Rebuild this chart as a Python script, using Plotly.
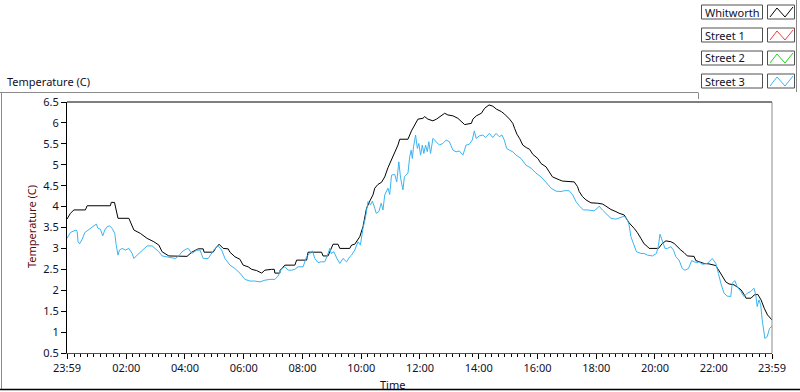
import plotly.graph_objects as go

# ---- data (hours after midnight; first point is 23:59 of previous day) ----
whitworth_hours = [-0.017, 0.10, 0.22, 0.61, 0.67, 1.46, 1.49, 1.60, 1.72, 2.09,
    2.26, 2.48, 2.71, 2.94, 3.11, 3.22, 3.45, 4.07, 4.23, 4.45,
    4.62, 4.65, 4.96, 5.04, 5.16, 5.30, 5.47, 5.53, 5.70, 5.87,
    5.98, 6.15, 6.27, 6.44, 6.61, 6.72, 6.95, 7.04, 7.06, 7.23,
    7.24, 7.40, 7.74, 7.80, 8.14, 8.19, 8.65, 8.70, 8.87, 8.93,
    9.04, 9.21, 9.27, 9.61, 9.67, 9.78, 9.84, 9.95, 10.06, 10.18,
    10.29, 10.40, 10.46, 10.57, 10.69, 10.80, 10.91, 11.03, 11.14, 11.25,
    11.31, 11.59, 11.71, 11.82, 11.93, 12.10, 12.16, 12.27, 12.44, 12.56,
    12.67, 12.84, 12.95, 13.12, 13.29, 13.41, 13.52, 13.75, 13.80, 13.92,
    14.09, 14.20, 14.35, 14.48, 14.60, 14.77, 14.88, 15.05, 15.16, 15.22,
    15.30, 15.39, 15.50, 15.62, 15.73, 15.84, 16.01, 16.12, 16.29, 16.40,
    16.51, 16.74, 16.85, 17.25, 17.36, 17.42, 17.53, 17.65, 17.82, 18.05,
    18.22, 18.33, 18.50, 18.67, 18.78, 18.95, 19.12, 19.29, 19.40, 19.52,
    19.63, 19.75, 19.80, 20.12, 20.25, 20.37, 20.54, 20.65, 20.76, 20.88,
    20.99, 21.10, 21.33, 21.39, 21.67, 21.84, 22.07, 22.18, 22.29, 22.41,
    22.52, 22.69, 22.81, 22.93, 23.04, 23.10, 23.27, 23.38, 23.50, 23.61,
    23.72, 23.83, 23.983]
whitworth_temp = [3.70, 3.84, 3.92, 3.92, 4.02, 4.02, 4.10, 4.10, 3.72, 3.72,
    3.44, 3.36, 3.24, 3.16, 3.08, 2.92, 2.82, 2.81, 2.91, 2.99,
    2.99, 2.91, 2.91, 3.00, 3.10, 3.00, 2.99, 2.91, 2.80, 2.74,
    2.60, 2.56, 2.50, 2.47, 2.41, 2.48, 2.50, 2.50, 2.41, 2.41,
    2.48, 2.60, 2.60, 2.72, 2.72, 2.91, 2.91, 2.82, 2.82, 2.92,
    3.10, 3.10, 3.00, 3.00, 3.08, 3.10, 3.16, 3.28, 3.52, 3.96,
    4.13, 4.28, 4.44, 4.53, 4.58, 4.71, 4.93, 5.11, 5.30, 5.47,
    5.61, 5.61, 5.81, 5.97, 6.09, 6.11, 6.15, 6.09, 6.05, 6.09,
    6.15, 6.23, 6.19, 6.17, 6.11, 6.03, 5.96, 5.99, 6.09, 6.17,
    6.23, 6.35, 6.43, 6.40, 6.33, 6.27, 6.21, 6.09, 5.99, 5.87,
    5.73, 5.63, 5.47, 5.41, 5.37, 5.25, 5.15, 5.03, 4.95, 4.83,
    4.71, 4.64, 4.61, 4.59, 4.48, 4.36, 4.24, 4.16, 4.09, 4.08,
    4.06, 4.01, 3.93, 3.88, 3.84, 3.80, 3.61, 3.48, 3.38, 3.24,
    3.11, 3.04, 3.00, 3.00, 3.12, 3.18, 3.16, 3.12, 3.04, 2.96,
    2.90, 2.82, 2.81, 2.71, 2.64, 2.63, 2.59, 2.48, 2.34, 2.20,
    2.15, 2.13, 2.08, 2.01, 1.89, 1.81, 1.81, 1.89, 1.90, 1.77,
    1.57, 1.41, 1.29]

street3_hours = [-0.017, 0.10, 0.22, 0.30, 0.33, 0.36, 0.41, 0.50, 0.59, 0.67,
    0.78, 0.90, 0.98, 1.04, 1.12, 1.20, 1.27, 1.35, 1.43, 1.52,
    1.61, 1.65, 1.72, 1.77, 1.86, 1.97, 2.09, 2.20, 2.26, 2.37,
    2.54, 2.71, 2.88, 2.99, 3.11, 3.22, 3.45, 3.67, 3.79, 3.90,
    4.03, 4.11, 4.23, 4.40, 4.51, 4.62, 4.79, 4.91, 5.02, 5.13,
    5.25, 5.36, 5.53, 5.70, 5.87, 6.04, 6.21, 6.38, 6.55, 6.72,
    6.89, 7.06, 7.17, 7.29, 7.40, 7.51, 7.63, 7.74, 7.85, 8.02,
    8.14, 8.25, 8.34, 8.42, 8.53, 8.64, 8.76, 8.87, 8.93, 8.98,
    9.07, 9.17, 9.27, 9.38, 9.50, 9.61, 9.67, 9.78, 9.89, 9.97,
    10.06, 10.15, 10.23, 10.31, 10.38, 10.46, 10.51, 10.60, 10.68, 10.74,
    10.80, 10.91, 10.97, 11.03, 11.14, 11.21, 11.28, 11.34, 11.42, 11.47,
    11.59, 11.65, 11.70, 11.74, 11.78, 11.85, 11.91, 11.96, 12.02, 12.08,
    12.13, 12.19, 12.25, 12.30, 12.36, 12.44, 12.55, 12.66, 12.78, 12.89,
    13.00, 13.12, 13.23, 13.34, 13.46, 13.51, 13.57, 13.68, 13.78, 13.85,
    13.91, 14.02, 14.14, 14.23, 14.36, 14.48, 14.59, 14.70, 14.79, 14.87,
    14.95, 15.04, 15.16, 15.27, 15.44, 15.61, 15.78, 15.95, 16.12, 16.29,
    16.46, 16.63, 16.80, 16.91, 17.08, 17.19, 17.31, 17.42, 17.56, 17.70,
    17.93, 18.04, 18.10, 18.21, 18.33, 18.50, 18.67, 18.84, 18.95, 19.06,
    19.12, 19.18, 19.29, 19.37, 19.52, 19.63, 19.74, 19.91, 20.05, 20.12,
    20.17, 20.25, 20.34, 20.42, 20.54, 20.63, 20.71, 20.82, 20.93, 21.02,
    21.14, 21.25, 21.33, 21.44, 21.50, 21.61, 21.78, 21.95, 22.07, 22.16,
    22.24, 22.35, 22.46, 22.58, 22.63, 22.72, 22.80, 22.92, 23.03, 23.14,
    23.26, 23.37, 23.43, 23.48, 23.54, 23.60, 23.65, 23.74, 23.82, 23.90,
    23.983]
street3_temp = [3.24, 3.38, 3.42, 3.44, 3.40, 3.16, 3.11, 3.22, 3.38, 3.42,
    3.48, 3.52, 3.58, 3.48, 3.46, 3.30, 3.44, 3.52, 3.54, 3.48,
    3.36, 3.12, 2.84, 2.96, 3.00, 2.96, 3.00, 2.88, 2.76, 2.84,
    2.96, 3.06, 3.06, 3.00, 2.92, 2.82, 2.79, 2.76, 2.82, 2.92,
    2.98, 3.00, 2.88, 2.96, 2.96, 2.76, 2.76, 2.88, 3.00, 3.06,
    2.96, 2.76, 2.60, 2.52, 2.41, 2.26, 2.22, 2.22, 2.20, 2.24,
    2.26, 2.26, 2.34, 2.52, 2.56, 2.48, 2.48, 2.50, 2.56, 2.56,
    2.80, 2.88, 2.94, 2.76, 2.66, 2.68, 2.68, 2.88, 3.00, 2.88,
    2.92, 2.76, 2.64, 2.76, 2.68, 2.80, 2.84, 2.96, 3.16, 3.08,
    3.48, 3.76, 4.12, 4.04, 4.13, 3.96, 3.84, 3.88, 4.08, 3.92,
    4.28, 4.44, 4.29, 4.75, 4.77, 4.59, 5.07, 4.68, 4.40, 4.71,
    4.80, 5.19, 5.35, 5.15, 5.43, 5.71, 5.39, 5.51, 5.23, 5.47,
    5.27, 5.47, 5.31, 5.55, 5.27, 5.63, 5.55, 5.47, 5.51, 5.59,
    5.55, 5.35, 5.31, 5.33, 5.23, 5.35, 5.47, 5.49, 5.59, 5.81,
    5.63, 5.69, 5.71, 5.65, 5.75, 5.65, 5.75, 5.67, 5.71, 5.59,
    5.39, 5.35, 5.31, 5.23, 5.15, 4.99, 4.92, 4.80, 4.71, 4.58,
    4.44, 4.37, 4.36, 4.38, 4.38, 4.29, 4.12, 4.02, 3.92, 3.92,
    3.90, 3.96, 4.01, 3.92, 3.84, 3.72, 3.70, 3.74, 3.77, 3.68,
    3.56, 3.28, 3.04, 2.92, 2.88, 2.88, 2.84, 2.82, 2.88, 3.08,
    3.34, 3.20, 3.00, 3.00, 3.04, 2.96, 2.80, 2.72, 2.52, 2.48,
    2.52, 2.71, 2.68, 2.66, 2.68, 2.62, 2.64, 2.76, 2.64, 2.40,
    2.17, 1.93, 1.86, 1.85, 2.17, 2.23, 2.08, 1.97, 1.85, 1.93,
    1.97, 2.05, 1.89, 1.61, 1.77, 1.65, 1.29, 0.85, 0.89, 1.09,
    1.14]

x_tick_hours = [-1/60, 2, 4, 6, 8, 10, 12, 14, 16, 18, 20, 22, 24 - 1/60]
x_tick_labels = ["23:59", "02:00", "04:00", "06:00", "08:00", "10:00", "12:00",
                 "14:00", "16:00", "18:00", "20:00", "22:00", "23:59"]
y_tick_vals = [0.5, 1, 1.5, 2, 2.5, 3, 3.5, 4, 4.5, 5, 5.5, 6, 6.5]
y_tick_labels = ["0.5", "1", "1.5", "2", "2.5", "3", "3.5", "4", "4.5", "5", "5.5", "6", "6.5"]

legend_names = ["Whitworth", "Street 1", "Street 2", "Street 3"]
legend_colors = ["#000000", "#F04040", "#20D020", "#3AB4F2"]

# ---- layout geometry (pixels) ----
W_FIG, H_FIG = 800, 392
L, R, T, B = 67, 28, 102, 39
PW = W_FIG - L - R
PH = H_FIG - T - B
FONT = "Noto Sans, Open Sans, DejaVu Sans, sans-serif"
TXT = "#10102a"
FS = 11


def px(x):
    return (x - L) / PW


def py(y):
    return (T + PH - y) / PH


fig = go.Figure()
fig.add_trace(go.Scatter(x=whitworth_hours, y=whitworth_temp, mode="lines",
                         name=legend_names[0], line=dict(color=legend_colors[0], width=1)))
fig.add_trace(go.Scatter(x=street3_hours, y=street3_temp, mode="lines",
                         name=legend_names[3], line=dict(color=legend_colors[3], width=1)))

shapes = []
annotations = []


def hline(x0, x1, y, color, w=1):
    shapes.append(dict(type="line", xref="paper", yref="paper", x0=px(x0), x1=px(x1),
                       y0=py(y), y1=py(y), line=dict(color=color, width=w), layer="above"))


def vline(x, y0, y1, color, w=1):
    shapes.append(dict(type="line", xref="paper", yref="paper", x0=px(x), x1=px(x),
                       y0=py(y0), y1=py(y1), line=dict(color=color, width=w), layer="above"))


# plot frame: top black, right gray
hline(67, 772, 102, "#000000")
vline(772, 102, 353, "#8a8a8a")

# outer panel lines
hline(0, 698, 92.5, "#8a8a8a")
vline(698.5, 92.5, 99, "#8a8a8a")
vline(1.5, 92.5, 389.5, "#8a8a8a")
hline(0, 800, 389.5, "#000000", 1.5)
vline(796.5, 0, 92, "#8a8a8a")

# legend boxes
for i, (name, col) in enumerate(zip(legend_names, legend_colors)):
    top = 5 + i * 23
    bot = top + 14
    shapes.append(dict(type="rect", xref="paper", yref="paper",
                       x0=px(701.5), x1=px(762.5), y0=py(bot), y1=py(top),
                       line=dict(color="#505050", width=1), fillcolor="white"))
    shapes.append(dict(type="rect", xref="paper", yref="paper",
                       x0=px(767.5), x1=px(794.5), y0=py(bot), y1=py(top),
                       line=dict(color="#505050", width=1), fillcolor="white"))
    pts = [(770, bot - 2), (777, top + 3), (785, bot - 2), (793, top + 2)]
    path = "M " + " L ".join(f"{px(a):.5f},{py(b):.5f}" for a, b in pts)
    shapes.append(dict(type="path", xref="paper", yref="paper", path=path,
                       line=dict(color=col, width=1)))
    annotations.append(dict(text=name, xref="paper", yref="paper", x=px(703),
                            y=py((top + bot) / 2), xanchor="left", yanchor="middle",
                            showarrow=False, font=dict(family=FONT, size=FS, color=TXT)))

# panel label, axis titles
annotations.append(dict(text="Temperature (C)", xref="paper", yref="paper", x=px(5), y=py(81),
                        xanchor="left", yanchor="middle", showarrow=False,
                        font=dict(family=FONT, size=FS, color=TXT)))
annotations.append(dict(text="Temperature (C)", xref="paper", yref="paper", x=px(31), y=py(227),
                        xanchor="center", yanchor="middle", textangle=-90, showarrow=False,
                        font=dict(family=FONT, size=FS, color="#5a0a10")))
annotations.append(dict(text="Time", xref="paper", yref="paper", x=px(392), y=py(384),
                        xanchor="center", yanchor="middle", showarrow=False,
                        font=dict(family=FONT, size=FS, color=TXT)))

fig.update_layout(
    width=W_FIG, height=H_FIG,
    margin=dict(l=L, r=R, t=T, b=B, pad=0),
    paper_bgcolor="white", plot_bgcolor="white",
    showlegend=False,
    shapes=shapes, annotations=annotations,
    xaxis=dict(range=[-1/60, 24 - 1/60], tickmode="array", tickvals=x_tick_hours,
               ticktext=x_tick_labels, ticks="outside", ticklen=5, tickcolor="#000000",
               tickwidth=1, showgrid=False, zeroline=False, showline=True,
               linecolor="#505050", linewidth=1,
               tickfont=dict(family=FONT, size=FS, color=TXT),
               minor=dict(tickmode="linear", tick0=0, dtick=2/9, ticks="outside",
                          ticklen=3, tickcolor="#000000", tickwidth=1, showgrid=False)),
    yaxis=dict(range=[0.5, 6.5], tickmode="array", tickvals=y_tick_vals,
               ticktext=y_tick_labels, ticks="outside", ticklen=5, tickcolor="#000000",
               showgrid=False, zeroline=False, showline=True, linecolor="#000000",
               linewidth=1, tickfont=dict(family=FONT, size=FS, color=TXT)),
)

fig.write_html("out.html", config={"displayModeBar": False},
               post_script="document.body.style.margin='0';document.body.style.padding='0';document.body.style.overflow='hidden';")
